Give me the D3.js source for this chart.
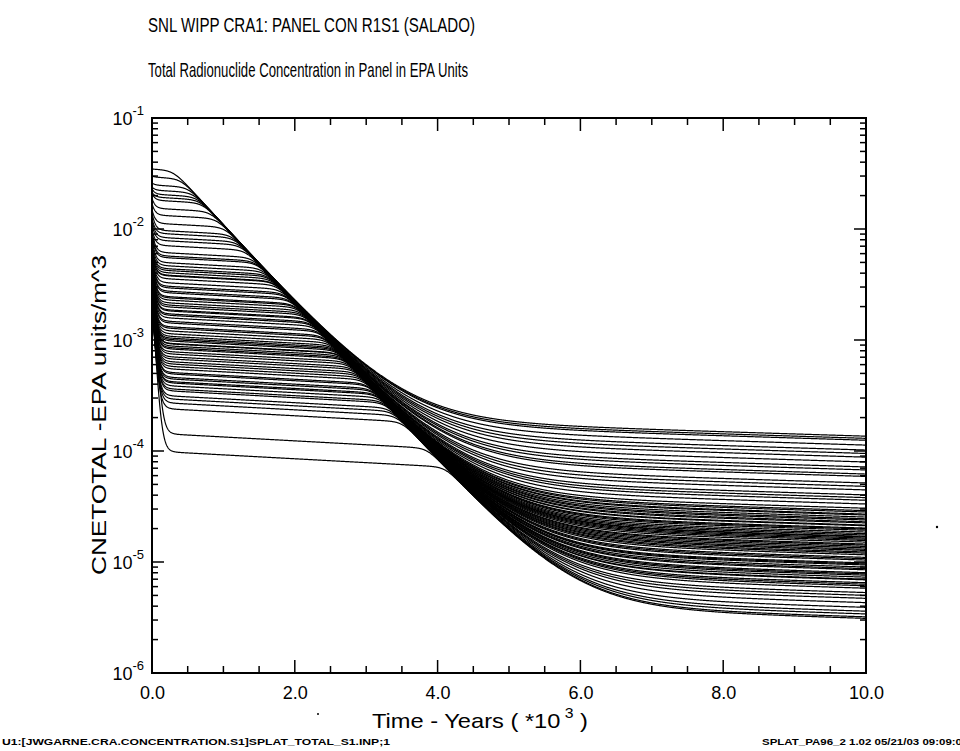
<!DOCTYPE html>
<html><head><meta charset="utf-8">
<script src="https://cdn.jsdelivr.net/npm/d3@7"></script>
<style>
html,body{margin:0;padding:0;background:#fff;}
svg{display:block;}
text{font-family:"Liberation Sans",Arial,Helvetica,sans-serif;fill:#000;}
</style></head>
<body>
<svg id="chart" width="960" height="751"></svg>
<script>
// ---------------- DATA ----------------
const titleText = "SNL WIPP CRA1: PANEL CON R1S1 (SALADO)";
const subtitleText = "Total Radionuclide Concentration in Panel in EPA Units";
const xTickValues = [0, 2, 4, 6, 8, 10];
const xTickLabels = ["0.0", "2.0", "4.0", "6.0", "8.0", "10.0"];
const yTickExponents = [-1, -2, -3, -4, -5, -6];
const footerLeft = "U1:[JWGARNE.CRA.CONCENTRATION.S1]SPLAT_TOTAL_S1.INP;1";
const footerRight = "SPLAT_PA96_2 1.02 05/21/03 09:09:0";

// Early (solubility-limited) level of each vector, EPA units/m^3
const plateau = [
  0.0347, 0.0294, 0.0249, 0.0224, 0.0206, 0.0194, 0.0182, 0.0154, 0.0134, 0.0113,
  0.0098, 0.0092, 0.00847, 0.00796, 0.00718, 0.00621, 0.0058, 0.00560, 0.00505, 0.00474,
  0.00446, 0.0043, 0.00410, 0.0039, 0.00385, 0.00362, 0.00333, 0.0031, 0.00300, 0.0028,
  0.00271, 0.0025, 0.00244, 0.00233, 0.00220, 0.0021, 0.00202, 0.0019, 0.00186, 0.00175,
  0.0017, 0.00161, 0.0015, 0.00145, 0.00134, 0.0013, 0.00123, 0.00116, 0.0011, 0.00106,
  0.00103, 0.00100, 0.00095, 0.000941, 0.000901, 0.00087, 0.000847, 0.00080, 0.000764, 0.00072,
  0.000689, 0.00065, 0.000621, 0.00059, 0.000560, 0.00052, 0.000505, 0.00047, 0.000455, 0.00043,
  0.000419, 0.000394, 0.00037, 0.000355, 0.000320, 0.00030, 0.000276, 0.000244, 0.000145, 0.000100];
// Concentration at t = 0 for each vector
const startLevel = [
  0.0347, 0.0300, 0.0260, 0.0240, 0.0230, 0.0215, 0.0210, 0.0190, 0.0170, 0.0150,
  0.0140, 0.0125, 0.0120, 0.0110, 0.0100, 0.0095, 0.0090, 0.0085, 0.0080, 0.0075,
  0.0070, 0.0068, 0.0066, 0.0064, 0.0062, 0.0060, 0.0058, 0.0056, 0.0055, 0.0053,
  0.0052, 0.0050, 0.0049, 0.0048, 0.0046, 0.0045, 0.0044, 0.0043, 0.0042, 0.0040,
  0.0039, 0.0038, 0.0037, 0.0036, 0.0035, 0.0034, 0.0034, 0.0033, 0.0033, 0.0032,
  0.0032, 0.0031, 0.0031, 0.0030, 0.0030, 0.0029, 0.0029, 0.0028, 0.0028, 0.0027,
  0.0027, 0.0027, 0.0026, 0.0026, 0.0026, 0.0025, 0.0025, 0.0025, 0.0024, 0.0024,
  0.0024, 0.0023, 0.0023, 0.0023, 0.0022, 0.0022, 0.0022, 0.0021, 0.0040, 0.0025];
// Late-time (long-lived) level of each vector at 10 000 years
const lateLevel = [
  1.36e-4, 1.30e-4, 1.25e-4, 1.13e-4, 1.02e-4, 9.5e-5, 8.8e-5, 7.96e-5, 7.18e-5, 6.75e-5,
  6.2e-5, 5.9e-5, 5.15e-5, 4.8e-5, 4.46e-5, 4.02e-5, 3.8e-5, 3.6e-5, 3.33e-5, 3.05e-5,
  2.9e-5, 2.82e-5, 2.7e-5, 2.65e-5, 2.54e-5, 2.45e-5, 2.39e-5, 2.3e-5, 2.25e-5, 2.15e-5,
  2.12e-5, 2.02e-5, 1.98e-5, 1.93e-5, 1.86e-5, 1.8e-5, 1.75e-5, 1.7e-5, 1.68e-5, 1.64e-5,
  1.6e-5, 1.56e-5, 1.51e-5, 1.45e-5, 1.42e-5, 1.38e-5, 1.34e-5, 1.3e-5, 1.27e-5, 1.23e-5,
  1.2e-5, 1.16e-5, 1.10e-5, 1.07e-5, 1.04e-5, 9.8e-6, 9.6e-6, 9.4e-6, 9.0e-6, 8.7e-6,
  8.5e-6, 8.0e-6, 7.8e-6, 7.6e-6, 7.3e-6, 7.0e-6, 6.9e-6, 6.5e-6, 6.3e-6, 6.1e-6,
  5.8e-6, 5.3e-6, 5.0e-6, 4.7e-6, 4.3e-6, 3.9e-6, 3.6e-6, 3.4e-6, 3.2e-6, 3.1e-6];

// Model constants (Am-241 decay front)
const AM_HALF_LIFE = 0.425;     // kyr
const AM_FRONT_LEVEL = 0.0347;  // level where the decay front starts
const AM_FRONT_START = 0.28;    // kyr
const PLATEAU_DRIFT = 0.035;    // decades per kyr
const LATE_DRIFT = 0.02;        // decades per kyr
const EARLY_TAU = 0.04;         // kyr

// ---------------- LAYOUT ----------------
const L = 152, R = 866, T = 118, B = 673;
const svg = d3.select("#chart");
const x = d3.scaleLinear().domain([0, 10]).range([L, R]);
const y = d3.scaleLog().domain([1e-6, 1e-1]).range([B, T]);

// titles
svg.append("text").attr("x", 148).attr("y", 32).attr("font-size", 21)
  .attr("textLength", 327).attr("lengthAdjust", "spacingAndGlyphs").text(titleText);
svg.append("text").attr("x", 148).attr("y", 77).attr("font-size", 21)
  .attr("textLength", 320).attr("lengthAdjust", "spacingAndGlyphs").text(subtitleText);

// curves
const lambda = Math.LN2 / AM_HALF_LIFE;
const times = d3.range(0, 10.0001, 0.005);
function conc(i, t) {
  const P = plateau[i] * Math.pow(10, -PLATEAU_DRIFT * t);
  const Q = lateLevel[i] * Math.pow(10, LATE_DRIFT * (10 - t));
  const E = AM_FRONT_LEVEL * Math.exp(-lambda * (t - AM_FRONT_START));
  const A = Math.max(P - Q, 1e-12);
  const n = 10;
  const core = Math.pow(Math.pow(A, -n) + Math.pow(E, -n), -1 / n);
  return core + Q + (startLevel[i] - plateau[i]) * Math.exp(-t / EARLY_TAU);
}
const line = d3.line().x(d => x(d[0])).y(d => y(d[1]));
const gCurves = svg.append("g").attr("fill", "none").attr("stroke", "#000")
  .attr("stroke-width", 1.2);
plateau.forEach((p, i) => {
  gCurves.append("path").attr("d", line(times.map(t => [t, conc(i, t)])));
});

// frame
svg.append("rect").attr("x", L).attr("y", T).attr("width", R - L).attr("height", B - T)
  .attr("fill", "none").attr("stroke", "#000").attr("stroke-width", 2);

// x ticks (inward, bottom and top)
const xMinor = d3.range(0, 10.0001, 0.5);
const gt = svg.append("g").attr("stroke", "#000").attr("stroke-width", 1.5);
xMinor.forEach(v => {
  const major = Math.abs(v / 2 - Math.round(v / 2)) < 1e-6;
  const len = major ? 13 : 7;
  gt.append("line").attr("x1", x(v)).attr("x2", x(v)).attr("y1", B).attr("y2", B - len);
  gt.append("line").attr("x1", x(v)).attr("x2", x(v)).attr("y1", T).attr("y2", T + len);
});
// y ticks (inward, left and right)
for (let e = -6; e <= -1; e++) {
  for (let k = 1; k <= 9; k++) {
    const v = k * Math.pow(10, e);
    if (v > 0.1000001) break;
    const len = k === 1 ? 12 : 6;
    gt.append("line").attr("x1", L).attr("x2", L + len).attr("y1", y(v)).attr("y2", y(v));
    gt.append("line").attr("x1", R).attr("x2", R - len).attr("y1", y(v)).attr("y2", y(v));
  }
}

// x tick labels
const xAxis = d3.axisBottom(x).tickValues(xTickValues).tickSize(0)
  .tickFormat((d, i) => xTickLabels[i]);
const gx = svg.append("g").attr("transform", `translate(0,${B})`).call(xAxis);
gx.select(".domain").remove();
gx.selectAll("text").attr("font-size", 18).attr("dy", "1.25em")
  .style("font-family", "Liberation Sans, Arial, sans-serif").attr("fill", "#000");

// y tick labels 10^n
const gy = svg.append("g");
yTickExponents.forEach(e => {
  const t = gy.append("text").attr("x", 144).attr("y", y(Math.pow(10, e)) + 7)
    .attr("text-anchor", "end").attr("font-size", 18);
  t.append("tspan").text("10");
  t.append("tspan").attr("font-size", 13).attr("dy", -10).text(String(e));
});

// axis titles
const xt = svg.append("text").attr("x", 372).attr("y", 728)
  .attr("font-size", 21).attr("textLength", 216).attr("lengthAdjust", "spacingAndGlyphs");
xt.append("tspan").text("Time - Years ( *10");
xt.append("tspan").attr("font-size", 14).attr("dy", -10).text(" 3");
xt.append("tspan").attr("dy", 10).text(" )");

svg.append("text").attr("transform", `translate(106,575) rotate(-90)`)
  .attr("font-size", 20).attr("textLength", 320).attr("lengthAdjust", "spacingAndGlyphs")
  .text("CNETOTAL -EPA units/m^3");

// footers
svg.append("text").attr("x", 2).attr("y", 745).attr("font-size", 9).attr("font-weight", "bold")
  .attr("textLength", 388).attr("lengthAdjust", "spacingAndGlyphs").text(footerLeft);
svg.append("text").attr("x", 762).attr("y", 745).attr("font-size", 9).attr("font-weight", "bold")
  .attr("textLength", 200).attr("lengthAdjust", "spacingAndGlyphs").text(footerRight);

// scan specks present in the original page
svg.append("circle").attr("cx", 318).attr("cy", 714).attr("r", 1).attr("fill", "#000");
svg.append("circle").attr("cx", 937).attr("cy", 527).attr("r", 1.2).attr("fill", "#000");
</script>
</body></html>
